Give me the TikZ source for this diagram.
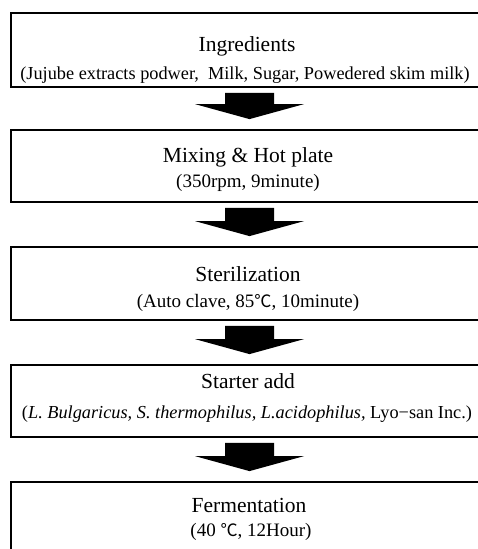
\documentclass[tikz,border=0pt]{standalone}
\usepackage{fontspec}
\setmainfont{Liberation Serif}
\newfontfamily\cjk[Scale=0.9]{Noto Sans CJK KR}
\usepackage{tikz}
\usetikzlibrary{calc}

\newcommand{\degc}{{\cjk ℃}}
\newcommand{\flowarrow}[2]{%
    \fill let \p1=($(#1.south)+(1.5,5)$), \p2=($(#2.north)+(1.5,-10)$) in
        (\x1-24.5pt,\y1) -- (\x1+24.5pt,\y1) -- (\x1+24.5pt,\y2+15pt) -- (\x1+54.5pt,\y2+15pt)
        -- (\x1,\y2) -- (\x1-54.5pt,\y2+15pt) -- (\x1-24.5pt,\y2+15pt) -- cycle;}

\begin{document}
\begin{tikzpicture}[
    x=1pt, y=-1pt,
    stepbox/.style={rectangle, draw, line width=1.8pt, minimum width=474pt, minimum height=72pt, inner sep=0pt},
    steptitle/.style={font=\fontsize{21.5}{24}\selectfont, inner sep=0pt},
    stepnote/.style={font=\fontsize{19}{22}\selectfont, inner sep=0pt},
    widenote/.style={stepnote, font=\fontsize{18.3}{21}\selectfont},
]
    \useasboundingbox (0,0) rectangle (478,549);
    \clip (0,0) rectangle (478,549);

    \node[stepbox, minimum height=74pt] (ingr) at (248,50) {};
    \node[stepbox] (mixing) at (248,166) {};
    \node[stepbox, minimum height=73pt] (steril) at (248,283.5) {};
    \node[stepbox] (starter) at (248,401) {};
    \node[stepbox] (ferment) at (248,518) {};

    \node[steptitle] (ingr-t) at (247,46) {Ingredients};
    \node[widenote] (ingr-n) at (245,75) {(Jujube extracts podwer,~~Milk, Sugar, Powedered skim milk)};
    \node[steptitle] (mixing-t) at (248,157) {Mixing \& Hot plate};
    \node[stepnote] (mixing-n) at (248,183) {(350rpm, 9minute)};
    \node[steptitle] (steril-t) at (248,274) {Sterilization};
    \node[stepnote] (steril-n) at (248,303) {(Auto clave, 85\degc, 10minute)};
    \node[steptitle] (starter-t) at (248,381) {Starter add};
    \node[widenote] (starter-n) at (247,414) {(\textit{L. Bulgaricus, S. thermophilus, L.acidophilus,} Lyo−san Inc.)};
    \node[steptitle] (ferment-t) at (249,505) {Fermentation};
    \node[stepnote] (ferment-n) at (251,532) {(40 \degc, 12Hour)};

    \flowarrow{ingr}{mixing}
    \flowarrow{mixing}{steril}
    \flowarrow{steril}{starter}
    \flowarrow{starter}{ferment}
\end{tikzpicture}
\end{document}
